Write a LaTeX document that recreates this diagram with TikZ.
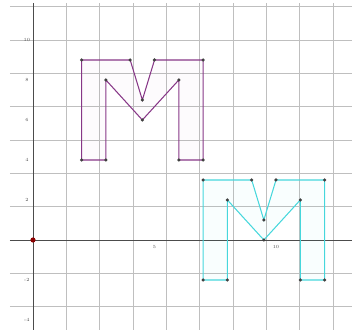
\documentclass[tikz,border=0pt]{standalone}
\definecolor{mpurple}{RGB}{135,55,135}
\definecolor{mcyan}{RGB}{70,215,220}
\begin{document}
\begin{tikzpicture}[x=0.729cm, y=0.6cm,
    pt/.style={fill=black!75},
    lbl/.style={font=\fontsize{4}{4}\selectfont, inner sep=0.5pt, text=black!70}]
    \useasboundingbox (-1.358,-4.6) rectangle (13.128,12);
    % grid and axes
    \draw[black!25, line width=0.5pt] (-0.95,-4.5) grid (13.2,11.85);
    \draw[black!70, line width=0.7pt] (-0.95,0) -- (13.2,0);
    \draw[black!70, line width=0.7pt] (0,-4.5) -- (0,11.85);
    \foreach \v in {10,8,6,4,2,-2,-4}
        \node[lbl] (ty\v) at (-0.25,\v) {\v};
    \node[lbl] (tx5) at (5,-0.35) {5};
    \node[lbl] (tx10) at (10,-0.35) {10};
    % first letter
    \coordinate (p1) at (2,4);   \coordinate (p2) at (2,9);
    \coordinate (p3) at (4,9);   \coordinate (p4) at (4.5,7);
    \coordinate (p5) at (5,9);   \coordinate (p6) at (7,9);
    \coordinate (p7) at (7,4);   \coordinate (p8) at (6,4);
    \coordinate (p9) at (6,8);   \coordinate (p10) at (4.5,6);
    \coordinate (p11) at (3,8);  \coordinate (p12) at (3,4);
    % translated letter
    \coordinate (q1) at (7,-2);  \coordinate (q2) at (7,3);
    \coordinate (q3) at (9,3);   \coordinate (q4) at (9.5,1);
    \coordinate (q5) at (10,3);  \coordinate (q6) at (12,3);
    \coordinate (q7) at (12,-2); \coordinate (q8) at (11,-2);
    \coordinate (q9) at (11,2);  \coordinate (q10) at (9.5,0);
    \coordinate (q11) at (8,2);  \coordinate (q12) at (8,-2);
    \draw[mpurple, line width=0.9pt, fill=mpurple, fill opacity=0.02]
        (p1)--(p2)--(p3)--(p4)--(p5)--(p6)--(p7)--(p8)--(p9)--(p10)--(p11)--(p12)--cycle;
    \draw[mcyan, line width=0.9pt, fill=mcyan, fill opacity=0.03]
        (q1)--(q2)--(q3)--(q4)--(q5)--(q6)--(q7)--(q8)--(q9)--(q10)--(q11)--(q12)--cycle;
    \foreach \i in {1,...,12} {
        \fill[pt] (p\i) circle (1.5pt);
        \fill[pt] (q\i) circle (1.5pt);
    }
    \coordinate (o) at (0,0);
    \fill[red!55!black] (o) circle (2.2pt);
\end{tikzpicture}
\end{document}
